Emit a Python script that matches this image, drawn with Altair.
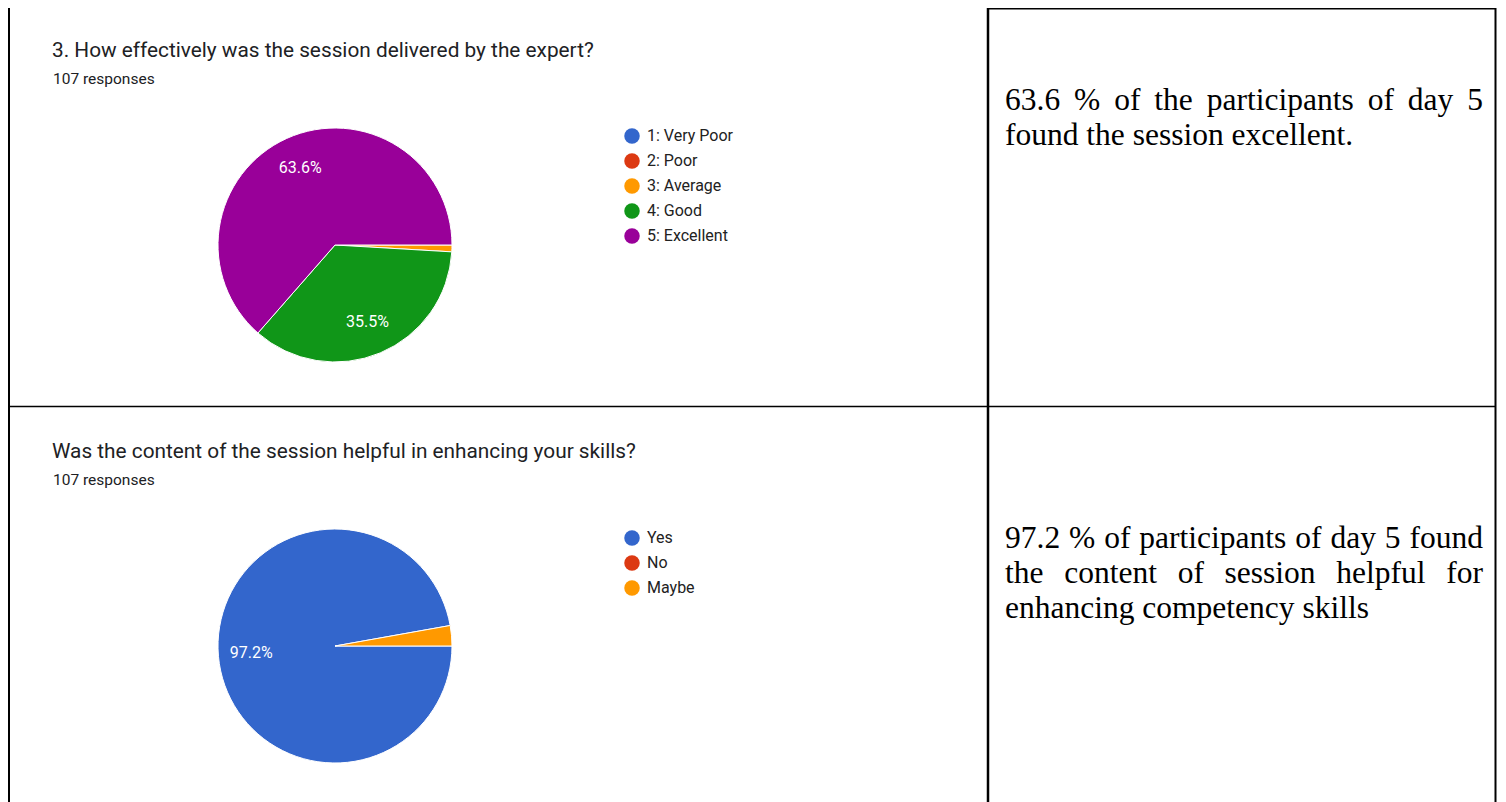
import math
import altair as alt
import pandas as pd

# ---------------- data ----------------
q1_title = "3. How effectively was the session delivered by the expert?"
q1_subtitle = "107 responses"
q1_categories = ["1: Very Poor", "2: Poor", "3: Average", "4: Good", "5: Excellent"]
q1_counts = [0, 0, 1, 38, 68]

q2_title = "Was the content of the session helpful in enhancing your skills?"
q2_subtitle = "107 responses"
q2_categories = ["Yes", "No", "Maybe"]
q2_counts = [104, 0, 3]

palette = ["#3366cc", "#dc3912", "#ff9900", "#109618", "#990099"]

note1_lines = ["63.6 % of the participants of day 5", "found the session excellent."]
note2_lines = ["97.2 % of participants of day 5 found",
               "the content of session helpful for",
               "enhancing competency skills"]

# ---------------- helpers ----------------
W, H = 1490, 794
SANS = "Roboto"
SERIF = "Liberation Serif"
NOTE_SIZE = 31.5

# Times New Roman advance widths (em) - Liberation Serif is metric compatible
TNR = {c: 0.5 for c in "0123456789bdghknopquvxy"}
TNR.update({"a": 0.444, "c": 0.444, "e": 0.444, "z": 0.444, "f": 0.333, "r": 0.333,
            "i": 0.278, "j": 0.278, "l": 0.278, "t": 0.278, "m": 0.778, "s": 0.389,
            "w": 0.722, ".": 0.25, ",": 0.25, "%": 0.833, " ": 0.25})


def word_width(word, size):
    return sum(TNR.get(ch, 0.5) for ch in word) * size


def one(val):
    return pd.DataFrame({"t": [val]})


def text_layer(val, x, y, size, color="#202124", font=SANS):
    return alt.Chart(one(val)).mark_text(
        align="left", baseline="alphabetic", font=font, fontSize=size, color=color
    ).encode(x=alt.value(x), y=alt.value(y), text="t:N")


def pie(cats, counts, cx, cy, lx, ly):
    total = sum(counts)
    df = pd.DataFrame({
        "cat": cats,
        "count": counts,
        "idx": list(range(len(cats))),
        "label": [f"{100 * c / total:.1f}%" if c / total >= 0.05 else "" for c in counts],
    })
    base = alt.Chart(df).transform_filter("datum.count > 0").encode(
        theta=alt.Theta("count:Q", stack=True,
                        scale=alt.Scale(range=[math.pi / 2, math.pi / 2 + 2 * math.pi])),
        order=alt.Order("idx:Q"),
        x=alt.value(cx), y=alt.value(cy),
    )
    arc = base.mark_arc(outerRadius=117, stroke="white", strokeWidth=1).encode(
        color=alt.Color(
            "cat:N",
            scale=alt.Scale(domain=cats, range=palette[:len(cats)]),
            legend=alt.Legend(
                orient="none", legendX=lx, legendY=ly, title=None,
                symbolType="circle", symbolSize=240, symbolStrokeWidth=0,
                symbolOpacity=1,
                labelFont=SANS, labelFontSize=16, labelColor="#222222",
                labelOffset=7, rowPadding=9, padding=0,
            ),
        )
    )
    labels = base.mark_text(radius=84, font=SANS, fontSize=16, color="white").encode(
        text="label:N", detail="cat:N"
    )
    return alt.layer(arc, labels)


def note(lines, left, right, y0, step):
    rows = []
    for i, line in enumerate(lines):
        words = line.split(" ")
        widths = [word_width(w, NOTE_SIZE) for w in words]
        if i < len(lines) - 1 and len(words) > 1:
            gap = (right - left - sum(widths)) / (len(words) - 1)
        else:
            gap = 0.25 * NOTE_SIZE
        x = left
        for w, wd in zip(words, widths):
            rows.append({"word": w, "px": x, "py": y0 + i * step})
            x += wd + gap
    return alt.Chart(pd.DataFrame(rows)).mark_text(
        align="left", baseline="alphabetic", font=SERIF, fontSize=NOTE_SIZE, color="black"
    ).encode(
        x=alt.X("px:Q", scale=None, axis=None),
        y=alt.Y("py:Q", scale=None, axis=None),
        text="word:N",
    )


def rule(x, x2, y, y2, width):
    return alt.Chart(one(0)).mark_rule(color="black", strokeWidth=width).encode(
        x=alt.value(x), x2=alt.value(x2), y=alt.value(y), y2=alt.value(y2)
    )


# ---------------- layers ----------------
borders = [
    rule(1, 1, 0, H, 2),            # left
    rule(980, 980, 0, H, 2.5),      # middle
    rule(1487.5, 1487.5, 0, H, 2),  # right
    rule(980, 1488, 0.75, 0.75, 1.5),  # top of right cell
    rule(0, 1488, 398.5, 398.5, 1.5),  # row divider
]

texts = [
    text_layer(q1_title, 44, 49, 20.8),
    text_layer(q1_subtitle, 45, 76, 15.5),
    text_layer(q2_title, 44, 450, 20.8),
    text_layer(q2_subtitle, 45, 477, 15.5),
]

pie1 = pie(q1_categories, q1_counts, 327, 237, 616, 120)
pie2 = pie(q2_categories, q2_counts, 327, 638, 616, 522)

notes = [
    note(note1_lines, 997, 1475, 101.5, 35),
    note(note2_lines, 997, 1475, 540, 35),
]

chart = alt.layer(*borders, *texts, pie1, pie2, *notes).resolve_scale(
    theta="independent", color="independent"
).properties(
    width=W, height=H, padding=0, background="white",
    autosize=alt.AutoSizeParams(type="none"),
).configure_view(stroke=None)

chart.save("out.html", embed_options={"renderer": "svg", "actions": False})
